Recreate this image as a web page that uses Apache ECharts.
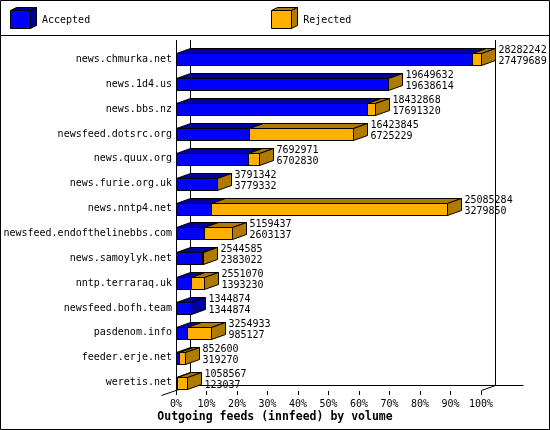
<!DOCTYPE html>
<html>
<head>
<meta charset="utf-8">
<script src="https://cdn.jsdelivr.net/npm/echarts@6/dist/echarts.min.js"></script>
<style>
html,body{margin:0;padding:0;background:#fff;}
#main{width:550px;height:430px;}
</style>
</head>
<body>
<div id="main"></div>
<script>
var hosts = ['news.chmurka.net','news.1d4.us','news.bbs.nz','newsfeed.dotsrc.org','news.quux.org','news.furie.org.uk','news.nntp4.net','newsfeed.endofthelinebbs.com','news.samoylyk.net','nntp.terraraq.uk','newsfeed.bofh.team','pasdenom.info','feeder.erje.net','weretis.net'];
var offered = [28282242,19649632,18432868,16423845,7692971,3791342,25085284,5159437,2544585,2551070,1344874,3254933,852600,1058567];
var accepted = [27479689,19638614,17691320,6725229,6702830,3779332,3279850,2603137,2383022,1393230,1344874,985127,319270,123037];

var FONT = '"DejaVu Sans Mono", monospace';
var colors = {acc:'#0000ff', accDark:'#0000a0', rej:'#ffb000', rejDark:'#b07a00'};
var DX = 14, DY = 5; //3d depth

var maxOff = Math.max.apply(null, offered);
var accData = [], rejData = [];
for (var i = 0; i < hosts.length; i++) {
	var a = accepted[i] / maxOff * 100;
	var o = offered[i] / maxOff * 100;
	accData.push([0, a, i]);
	rejData.push([a, o, i]);
}

//draws one 3d segment of a bar
function makeRender(isAcc){
	return function(params, api){
		var i = params.dataIndex;
		var noRej = offered[i] == accepted[i];
		if (!isAcc && noRej) return null;
		var s = api.coord([api.value(0), i]);
		var e = api.coord([api.value(1), i]);
		var band = Math.abs(api.coord([0, 1])[1] - api.coord([0, 0])[1]);
		var h = Math.round(band * 0.5);
		var x0 = Math.round(s[0]) + 0.5, x1 = Math.round(e[0]) + 0.5;
		var y0 = Math.round(s[1] - h / 2) + 0.5, y1 = y0 + h;
		var front = isAcc ? colors.acc : colors.rej;
		var dark = isAcc ? colors.accDark : colors.rejDark;
		var kids = [
			{type:'polygon', shape:{points:[[x0,y0],[x0+DX,y0-DY],[x1+DX,y0-DY],[x1,y0]]}, style:{fill:dark, stroke:'#000', lineWidth:1}},
			{type:'rect', shape:{x:x0, y:y0, width:x1-x0, height:h}, style:{fill:front, stroke:'#000', lineWidth:1}}
		];
		var last = isAcc ? noRej : true;
		if (last) {
			kids.push({type:'polygon', shape:{points:[[x1,y0],[x1+DX,y0-DY],[x1+DX,y1-DY],[x1,y1]]}, style:{fill:dark, stroke:'#000', lineWidth:1}});
			kids.push({type:'text', x:x1 + DX + 3, y:y0 + h / 2 - 4, style:{
				text: offered[i] + '\n' + accepted[i], fill:'#000', fontSize:10, fontFamily:FONT,
				lineHeight:11, align:'left', verticalAlign:'middle'}});
		}
		return {type:'group', children:kids};
	};
}

var chart = echarts.init(document.getElementById('main'));
var option = {
	backgroundColor:'#fff',
	animation:false,
	title:{
		text:'Outgoing feeds (innfeed) by volume',
		left:'center', top:411, padding:0,
		textStyle:{fontFamily:FONT, fontSize:11.5, fontWeight:'bold', color:'#000'}
	},
	legend:{
		left:11, top:10, padding:0, itemWidth:26, itemHeight:21, itemGap:182,
		data:['Accepted', 'Rejected'], icon:'rect',
		itemStyle:{opacity:0},
		textStyle:{fontFamily:FONT, fontSize:10, color:'#000'}
	},
	grid:{left:176, right:69, top:47, bottom:35},
	xAxis:{
		type:'value', min:0, max:100, interval:10, offset:-4,
		axisLine:{show:false},
		axisTick:{show:true, length:4, lineStyle:{color:'#000'}},
		splitLine:{show:false},
		axisLabel:{formatter:'{value}%', margin:8, fontFamily:FONT, fontSize:10, color:'#000'}
	},
	yAxis:{
		type:'category', inverse:true, data:hosts,
		axisLine:{show:false}, axisTick:{show:false},
		axisLabel:{margin:4, fontFamily:FONT, fontSize:10, color:'#000'}
	},
	series:[
		{name:'Accepted', type:'custom', renderItem:makeRender(true), data:accData,
			encode:{x:[0,1], y:2}, itemStyle:{color:colors.acc}, z:3},
		{name:'Rejected', type:'custom', renderItem:makeRender(false), data:rejData,
			encode:{x:[0,1], y:2}, itemStyle:{color:colors.rej}, z:4}
	]
};
chart.setOption(option);

//frame lines and legend cubes
var xl = Math.round(chart.convertToPixel({xAxisIndex:0}, 0)) + 0.5;
var xr = Math.round(chart.convertToPixel({xAxisIndex:0}, 100)) + 0.5;
var yb = 390.5, yt = 40;
function ln(x1, y1, x2, y2){
	return {type:'line', z:1, shape:{x1:x1, y1:y1, x2:x2, y2:y2}, style:{stroke:'#000', lineWidth:1}};
}
function legendCube(x, y, front, dark){
	return [
		{type:'rect', z:100, shape:{x:x, y:y+3, width:20, height:18}, style:{fill:front, stroke:'#000'}},
		{type:'polygon', z:100, shape:{points:[[x,y+3],[x+6,y],[x+26,y],[x+20,y+3]]}, style:{fill:dark, stroke:'#000'}},
		{type:'polygon', z:100, shape:{points:[[x+20,y+3],[x+26,y],[x+26,y+18],[x+20,y+21]]}, style:{fill:dark, stroke:'#000'}}
	];
}
var g = [
	{type:'rect', z:0, shape:{x:0.5, y:0.5, width:549, height:429}, style:{fill:'none', stroke:'#000', lineWidth:1}},
	ln(0, 35.5, 550, 35.5),
	ln(xl, yt, xl, yb),
	ln(xl - DX - 1, yb + DY, xl + DX, yb - DY),
	ln(xl + DX, yt, xl + DX, yb - DY),
	ln(xl + DX, yb - DY, xr + DX + 28, yb - DY),
	ln(xr + DX, yt, xr + DX, yb - DY),
	ln(xr, yb, xr + DX, yb - DY)
];
g = g.concat(legendCube(10.5, 7.5, colors.acc, colors.accDark), legendCube(271.5, 7.5, colors.rej, colors.rejDark));
chart.setOption({graphic:g});
</script>
</body>
</html>
